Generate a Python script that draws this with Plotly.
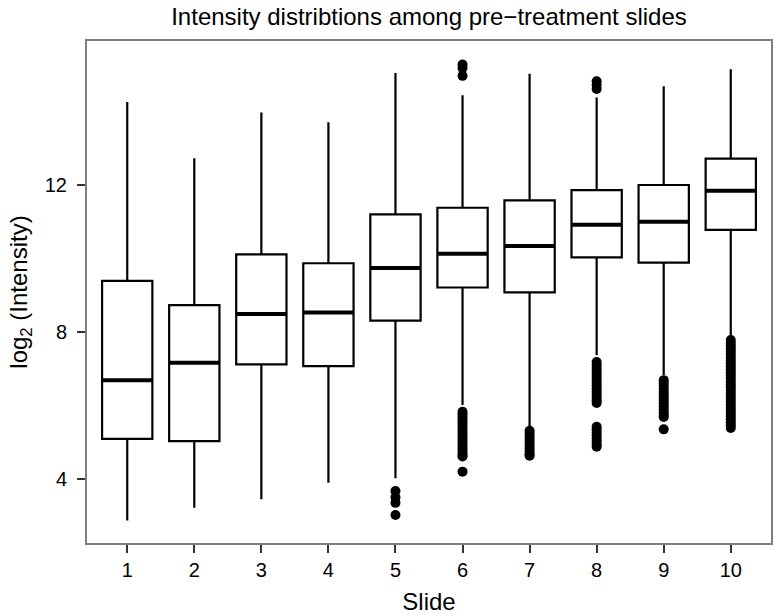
import plotly.graph_objects as go

# ---- data ----
slides = [1, 2, 3, 4, 5, 6, 7, 8, 9, 10]
lower_whisker = [2.87, 3.22, 3.45, 3.90, 4.02, 6.01, 5.42, 7.37, 6.83, 7.92]
q1 = [5.09, 5.03, 7.12, 7.07, 8.31, 9.21, 9.08, 10.03, 9.89, 10.78]
median = [6.69, 7.16, 8.49, 8.53, 9.74, 10.13, 10.34, 10.92, 11.00, 11.84]
q3 = [9.39, 8.73, 10.11, 9.87, 11.20, 11.38, 11.58, 11.86, 12.00, 12.72]
upper_whisker = [14.26, 12.73, 13.97, 13.71, 15.05, 14.44, 15.03, 14.38, 14.69, 15.15]

outliers_5 = [3.67, 3.50, 3.35, 3.02]
outliers_6 = [15.28, 15.18, 14.97,
              5.83, 5.76, 5.68, 5.60, 5.52, 5.44, 5.36, 5.28, 5.20, 5.12, 5.04,
              4.96, 4.88, 4.80, 4.72, 4.65, 4.61, 4.20]
outliers_7 = [5.31, 5.23, 5.15, 5.07, 4.99, 4.91, 4.83, 4.75, 4.67, 4.63]
outliers_8 = [14.82, 14.72, 14.61,
              7.18, 7.10, 7.02, 6.94, 6.86, 6.78, 6.70, 6.62, 6.54, 6.46, 6.38,
              6.30, 6.22, 6.14, 6.07,
              5.42, 5.34, 5.26, 5.18, 5.10, 5.02, 4.94, 4.88]
outliers_9 = [6.69, 6.61, 6.53, 6.45, 6.37, 6.29, 6.21, 6.13, 6.05, 5.97, 5.89,
              5.81, 5.73, 5.69, 5.35]
outliers_10 = [7.78, 7.70, 7.62, 7.54, 7.46, 7.38, 7.30, 7.22, 7.14, 7.06, 6.98,
               6.90, 6.82, 6.74, 6.66, 6.58, 6.50, 6.42, 6.34, 6.26, 6.18, 6.10,
               6.02, 5.94, 5.86, 5.78, 5.70, 5.62, 5.54, 5.46, 5.39]

title_text = "Intensity distribtions among pre\u2212treatment slides"
x_title = "Slide"
y_title = "log<sub>2</sub> (Intensity)"
y_ticks = [4, 8, 12]

box_width = 0.75
FONT = "Liberation Sans, Arial, Helvetica, sans-serif"

outlier_map = {5: outliers_5, 6: outliers_6, 7: outliers_7, 8: outliers_8,
               9: outliers_9, 10: outliers_10}

fig = go.Figure()

fig.add_trace(go.Box(
    x=slides, q1=q1, median=median, q3=q3,
    lowerfence=lower_whisker, upperfence=upper_whisker,
    width=box_width, whiskerwidth=0,
    fillcolor="white", line=dict(color="black", width=2.2),
    boxpoints=False, showlegend=False, hoverinfo="skip",
))

# thicker median bars
mx, my = [], []
for s, m in zip(slides, median):
    mx += [s - box_width / 2, s + box_width / 2, None]
    my += [m, m, None]
fig.add_trace(go.Scatter(x=mx, y=my, mode="lines",
                         line=dict(color="black", width=4),
                         showlegend=False, hoverinfo="skip"))

ox, oy = [], []
for s, vals in outlier_map.items():
    ox += [s] * len(vals)
    oy += vals
fig.add_trace(go.Scatter(x=ox, y=oy, mode="markers",
                         marker=dict(color="black", size=10, line=dict(width=0)),
                         showlegend=False, hoverinfo="skip"))

axis_common = dict(
    showline=True, mirror=True, linecolor="#7f7f7f", linewidth=2,
    showgrid=False, zeroline=False,
    ticks="outside", ticklen=8, tickwidth=1.6, tickcolor="#333333",
    tickfont=dict(family=FONT, size=20, color="black"),
)

fig.update_layout(
    width=775, height=615,
    margin=dict(l=87, r=2, t=41, b=72),
    paper_bgcolor="white", plot_bgcolor="white",
    font=dict(family=FONT, color="black"),
    title=dict(text=title_text, x=0.5, xref="paper", xanchor="center",
               y=1 - 17 / 615, yref="container", yanchor="middle",
               font=dict(family=FONT, size=24, color="black")),
    xaxis=dict(range=[0.4, 10.6], tickmode="array", tickvals=slides,
               ticktext=[str(s) for s in slides],
               title=dict(text=x_title, font=dict(family=FONT, size=24), standoff=14),
               ticklabelstandoff=0,
               **axis_common),
    yaxis=dict(range=[2.258, 15.918], tickmode="array", tickvals=y_ticks,
               ticktext=[str(t) for t in y_ticks],
               title=dict(text=y_title, font=dict(family=FONT, size=24), standoff=10),
               ticklabelstandoff=6,
               **axis_common),
)

fig.write_html("out.html")
